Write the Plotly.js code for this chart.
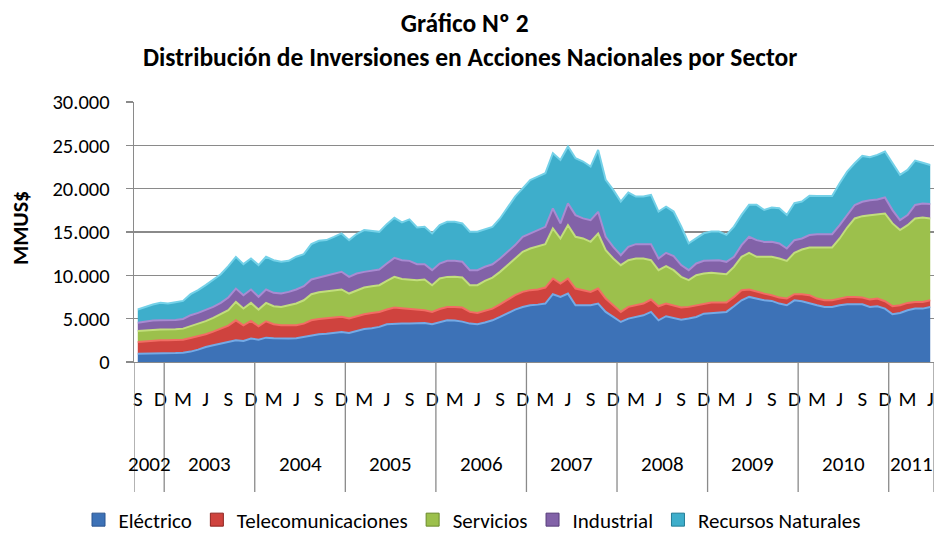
<!DOCTYPE html>
<html><head><meta charset="utf-8">
<script src="https://cdn.plot.ly/plotly-3.0.1.min.js"></script>
<style>html,body{margin:0;padding:0;background:#fff}</style>
</head><body><div id="chart" style="width:935px;height:533px"></div>
<script>
// Category structure: monthly, Sep 2002 .. Jun 2011
const years = ['2002','2003','2004','2005','2006','2007','2008','2009','2010','2011'];
const monthsInYear = [4,12,12,12,12,12,12,12,12,6];
const firstMonth = 9; // September 2002
const monthLetters = ['E','F','M','A','M','J','J','A','S','O','N','D'];
const seriesNames = ['Eléctrico','Telecomunicaciones','Servicios','Industrial','Recursos Naturales'];
const titleLines = ['Gráfico Nº 2', 'Distribución de Inversiones en Acciones Nacionales por Sector'];
const yTitle = 'MMUS$';

// Values in MMUS$
const electrico = [960,960,960,960,
 1000,1040,1080,1200,1430,1730,1930,2120,2310,2500,2430,2700,
 2580,2810,2740,2700,2700,2740,2890,3080,3200,3270,3390,3470,
 3350,3580,3810,3890,4050,4350,4430,4430,4430,4470,4510,4350,
 4620,4810,4780,4660,4430,4350,4550,4810,5200,5660,6050,6350,
 6550,6620,6740,7820,7510,7890,6550,6550,6550,6740,5780,5200,
 4620,5010,5200,5390,5780,4810,5280,5120,4890,5010,5200,5580,
 5660,5660,5780,6430,7120,7510,7320,7120,7050,6740,6550,7120,
 7010,6820,6550,6350,6350,6550,6660,6660,6660,6350,6430,6160,
 5510,5660,5970,6160,6160,6350];
const telecom = [1350,1430,1510,1540,
 1500,1460,1500,1580,1540,1470,1580,1690,1890,2310,1810,2040,
 1540,1890,1620,1540,1540,1500,1540,1730,1770,1780,1770,1740,
 1660,1700,1700,1770,1730,1700,1850,1770,1690,1580,1470,1430,
 1500,1540,1580,1620,1350,1310,1350,1350,1460,1540,1660,1740,
 1740,1740,1850,1810,1540,1740,1930,1740,1540,1730,1540,1350,
 1160,1350,1350,1350,1430,1620,1470,1430,1390,1350,1350,1160,
 1200,1200,1080,1080,1160,850,770,770,660,690,770,700,
 810,890,770,770,770,770,850,850,770,850,890,850,
 930,890,850,770,770,770];
const servicios = [1270,1280,1230,1240,
 1240,1280,1270,1350,1390,1510,1580,1700,1780,2120,1930,2080,
 1930,2120,2080,2120,2310,2510,2690,3010,3080,3120,3120,3160,
 2890,3010,3080,3080,3080,3310,3550,3390,3390,3390,3540,3080,
 3510,3470,3470,3470,3080,3200,3470,3580,3740,3970,4240,4620,
 4810,5010,5010,5780,5200,6160,5970,5970,5780,6350,5590,5390,
 5390,5390,5390,5200,4540,4160,4310,4050,3550,3080,3470,3460,
 3430,3350,3270,3460,3850,4240,4050,4240,4430,4510,4350,4780,
 5160,5510,5890,6090,6090,6930,8010,9050,9400,9740,9740,10130,
 9550,8670,8970,9630,9740,9440];
const industrial = [960,1000,1080,1080,
 1080,1080,1120,1270,1310,1270,1270,1310,1460,1540,1540,1540,
 1470,1540,1540,1540,1540,1620,1620,1700,1700,1740,1920,2040,
 1930,1920,1810,1770,1810,2000,2190,2160,2160,1850,1770,1740,
 1730,1850,1850,1810,1740,1740,1620,1540,1540,1540,1540,1740,
 1730,1850,2000,2310,1740,2510,2500,2310,2500,2510,1540,1350,
 1160,1540,1660,1660,1850,1350,1540,1620,1350,1160,1350,1470,
 1460,1540,1430,1160,1350,1850,1920,1730,1730,1740,1430,1460,
 1270,1430,1540,1540,1540,1540,1430,1560,1660,1730,1700,1850,
 1540,1150,1160,1560,1620,1660];
const recursos = [1510,1690,1850,2010,
 1930,2040,2080,2430,2620,2890,3160,3310,3620,3660,3580,3580,
 3660,3780,3770,3660,3580,3780,3700,4080,4240,4160,4240,4430,
 4230,4550,4820,4620,4350,4550,4620,4350,4780,4240,4310,4230,
 4430,4510,4510,4430,4430,4430,4320,4310,4620,5120,5590,5580,
 6160,6160,6180,6370,7330,6560,6560,6560,6180,7140,6560,6570,
 6180,6260,5490,5490,5680,5410,5330,5140,4450,3100,2910,3180,
 3300,3300,3110,3490,3490,3680,4070,3680,3950,4060,3870,4260,
 4260,4520,4410,4410,4410,4830,5020,4810,5290,4950,5140,5290,
 5400,5220,5210,5120,4710,4520];

const fillColors = ['#3d72b7','#cf433e','#9cc04c','#8262a8','#3eaecb'];
const edgeColors = ['#74aae6','#f26d64','#c2de7c','#a98bd2','#74d1e8'];
const darkColors = ['#2a5590','#8e2420','#6a8a2c','#573d7a','#237d96'];

// Build category index + labels
const cats = [];
years.forEach((yr, k) => { for (let j = 0; j < monthsInYear[k]; j++) { cats.push({year: yr, month: (k === 0 ? firstMonth : 1) + j}); } });
const idx = cats.map((c, i) => i);
const tickvals = idx.filter(i => i % 3 === 0);
const ticktext = tickvals.map(i => monthLetters[cats[i].month - 1]);

const FONT = 'Carlito, Lato, sans-serif';
const series = [electrico, telecom, servicios, industrial, recursos];
const traces = series.map((vals, k) => ({
  type: 'scatter', x: idx, y: vals, stackgroup: 'one', mode: 'lines',
  line: {color: edgeColors[k], width: 2, shape: 'linear'},
  fillcolor: fillColors[k], name: seriesNames[k], showlegend: false, hoverinfo: 'skip'
}));
seriesNames.forEach((n, k) => traces.push({
  type: 'scatter', x: [null], y: [null], mode: 'markers', name: n, showlegend: true,
  marker: {symbol: 'square', size: 13, color: fillColors[k], line: {color: darkColors[k], width: 1}}
}));

// year group separators and labels
const shapes = [], annotations = [];
let start = 0;
const grey = '#8a8a8a';
shapes.push({type: 'line', xref: 'x', yref: 'paper', x0: -0.5, x1: -0.5, y0: 0, y1: -0.5, line: {color: grey, width: 1.3}});
years.forEach((yr, k) => {
  const n = monthsInYear[k];
  const end = start + n - 0.5;
  shapes.push({type: 'line', xref: 'x', yref: 'paper', x0: end, x1: end, y0: 0, y1: -0.5, line: {color: grey, width: 1.3}});
  annotations.push({xref: 'x', yref: 'paper', x: start - 0.5 + n / 2, y: -0.392, text: yr, showarrow: false,
    xanchor: 'center', yanchor: 'middle', font: {family: FONT, size: 21, color: '#000'}});
  start += n;
});
annotations.push({xref: 'paper', yref: 'paper', x: -0.1425, y: 0.515, text: '<b>' + yTitle + '</b>', textangle: -90, showarrow: false,
  xanchor: 'center', yanchor: 'middle', font: {family: FONT, size: 22, color: '#000'}});
// second title line
annotations.push({xref: 'paper', yref: 'paper', x: 0.4195, y: 1.171, text: '<b>' + titleLines[1] + '</b>', showarrow: false,
  xanchor: 'center', yanchor: 'middle', font: {family: FONT, size: 25.5, color: '#000'}});

const layout = {
  width: 935, height: 533,
  margin: {l: 134, r: 1, t: 102, b: 171, autoexpand: false},
  paper_bgcolor: '#fff', plot_bgcolor: '#fff',
  separators: ',.',
  font: {family: FONT, size: 21, color: '#000'},
  title: {text: '<b>' + titleLines[0] + '</b>',
    x: 0.497, xref: 'container', xanchor: 'center', y: 1 - 23 / 533, yref: 'container', yanchor: 'middle',
    font: {family: FONT, size: 25.5, color: '#000'}},
  xaxis: {range: [-0.5, idx.length - 0.5], showgrid: false, zeroline: false, showline: true, automargin: false,
    linecolor: grey, linewidth: 1.3, ticks: '', tickvals: tickvals, ticktext: ticktext,
    ticklabelstandoff: 17, tickfont: {family: FONT, size: 21, color: '#000'}},
  yaxis: {range: [0, 30000], dtick: 5000, tickformat: ',d', showgrid: true, gridcolor: grey, gridwidth: 1.3, automargin: false,
    zeroline: false, showline: true, linecolor: grey, linewidth: 1.3, ticks: 'outside', ticklen: 7,
    tickcolor: grey, tickwidth: 1.3, ticklabelstandoff: 12, tickfont: {family: FONT, size: 20.5, color: '#000'}},
  legend: {orientation: 'h', x: 0.4225, xanchor: 'center', y: (362 - 520) / 260, yanchor: 'middle',
    font: {family: FONT, size: 21, color: '#000'}, itemwidth: 30, traceorder: 'normal', bgcolor: 'rgba(0,0,0,0)'},
  shapes: shapes, annotations: annotations, hovermode: false
};
Plotly.newPlot('chart', traces, layout, {displayModeBar: false, staticPlot: true});
</script></body></html>
